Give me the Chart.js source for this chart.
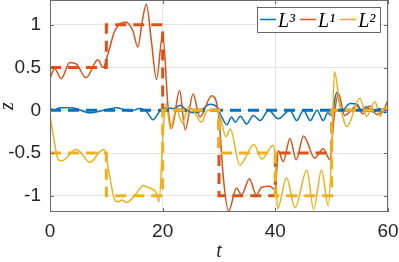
<!DOCTYPE html>
<html>
<head>
<meta charset="utf-8">
<script src="https://cdn.jsdelivr.net/npm/chart.js@4"></script>
<style>
html, body { margin: 0; padding: 0; background: #fff; }
</style>
</head>
<body>
<canvas id="chart" width="399" height="262"></canvas>
<script>

const blue = "#0072BD"
const orange = "#D95319"
const yellow = "#EDB120"

// reference steps, each value holds until the next time
const refTimes = [0, 10, 20, 30, 40, 50, 60];
const refL3 = [0, 0, 0, 0, 0, 0, 0];
const refL1 = [0.5, 1, 0, -1, -0.5, 0, 0];
const refL2 = [-0.5, -1, 0, -0.5, -1, 0, 0];

// measured trajectories
const tL3 = [0, 0.8, 1.8, 3.9, 7.1, 9.5, 11.8, 14.2, 16.0, 17.2, 18.3, 19.6, 20.7, 22.0, 23.1, 24.3, 25.4, 26.5, 28.4, 29.6,
             30.5, 31.4, 32.2, 32.9, 33.8, 34.9, 36.1, 37.3, 38.8, 40.5, 42.6, 43.8, 45.0, 46.2, 47.4, 48.5, 49.3, 50.0,
             50.9, 51.8, 53.3, 54.5, 55.3, 56.2, 57.3, 58.5, 59.5, 60];
const zL3 = [0.02, 0.0, 0.03, 0.03, -0.03, 0.0, 0.03, -0.01, 0.02, -0.02, -0.11, 0.0, 0.03, 0.02, 0.06, 0.0, -0.03, -0.02, 0.07, 0.04,
             -0.08, -0.17, -0.08, -0.14, -0.07, -0.16, -0.06, -0.12, 0.0, -0.1, 0.0, -0.12, 0.0, -0.12, 0.0, -0.12, -0.03, -0.06,
             0.21, 0.0, 0.08, 0.07, 0.0, 0.04, -0.02, 0.02, -0.03, 0.0];

const tL1 = [0, 0.8, 2.0, 3.5, 4.7, 6.4, 8.5, 9.4, 10.3, 11.5, 13.5, 14.7, 15.6, 16.4, 17.1, 18.0, 18.9, 20.0, 21.0, 21.6,
             23.0, 24.0, 25.4, 26.6, 28.7, 29.9, 30.8, 31.7, 33.1, 34.0, 35.4, 36.6, 37.6, 39.0, 40.0, 40.5, 41.4, 42.6,
             43.7, 45.0, 47.0, 48.5, 49.7, 50.4, 51.2, 52.3, 53.5, 54.4, 55.5, 56.8, 58.0, 59.2, 60];
const zL1 = [0.37, 0.49, 0.37, 0.56, 0.54, 0.38, 0.59, 0.50, 0.66, 0.93, 1.03, 0.93, 0.74, 1.05, 1.24, 0.81, 0.36, 0.89, 0.0, -0.21,
             0.23, -0.23, 0.19, -0.08, 0.17, -0.04, -0.81, -1.18, -0.91, -0.99, -0.80, -0.99, -0.90, -0.89, -0.93, -0.47, -0.60, -0.33,
             -0.58, -0.30, -0.56, -0.45, -0.58, -0.1, 0.2, -0.06, 0.0, 0.06, -0.04, 0.05, -0.05, 0.0, 0.12];

const tL2 = [0, 0.6, 1.5, 2.1, 4.6, 5.4, 7.1, 8.9, 9.6, 10.4, 11.5, 12.1, 12.8, 13.6, 15.1, 16.6, 17.2, 17.8, 18.9, 19.35,
             20.1, 20.6, 21.4, 22.4, 23.5, 24.6, 25.6, 26.9, 28.0, 29.5, 30.4, 31.2, 32.0, 33.7, 36.2, 37.6, 39.6, 40.0,
             40.4, 42.0, 43.5, 45.6, 46.8, 48.2, 49.4, 50.0, 50.5, 51.4, 52.7, 55.0, 56.2, 57.7, 58.6, 59.4, 60];
const zL2 = [-0.06, -0.3, -0.58, -0.59, -0.46, -0.49, -0.61, -0.48, -0.46, -0.70, -1.05, -1.07, -1.05, -1.08, -0.99, -0.88, -0.90, -0.91, -0.97, -1.07,
             -0.23, 0.08, -0.22, 0.02, -0.15, 0.04, -0.02, -0.14, 0.0, 0.0, -0.12, -0.31, -0.22, -0.64, -0.40, -0.57, -0.41, -0.55,
             -1.15, -0.79, -1.14, -0.70, -1.16, -0.70, -1.12, -0.5, 0.45, 0.1, -0.19, 0.14, -0.07, 0.10, -0.07, 0.03, 0.0];

function pts(t, z) {
    return t.map((x, i) => ({x: x, y: z[i]}));
}

function solid(label, color, t, z) {
    return {label: label, data: pts(t, z), borderColor: color, borderWidth: 1.5,
            cubicInterpolationMode: 'monotone', pointRadius: 0, fill: false};
}

function dashed(color, z) {
    return {label: '', data: pts(refTimes, z), borderColor: color, borderWidth: 3,
            borderDash: [11, 7], stepped: 'before', pointRadius: 0, fill: false};
}

const axisFont = {family: 'Liberation Sans', size: 19};
const mathFont = {family: 'Liberation Serif', style: 'italic', size: 20, lineHeight: 0.8};
const legendOrder = [5, 4, 3]; // L3, L1, L2

const frame = {
    id: 'frame',
    afterDraw(chart) {
        const ctx = chart.ctx;
        const a = chart.chartArea;
        const sx = chart.scales.x, sy = chart.scales.y;
        ctx.save();
        ctx.strokeStyle = '#6b6b6b';
        ctx.lineWidth = 1;
        ctx.strokeRect(a.left + 0.5, a.top + 0.5, a.right - a.left - 1, a.bottom - a.top - 1);
        ctx.beginPath();
        sx.ticks.forEach(tk => {
            const p = Math.round(sx.getPixelForValue(tk.value)) + 0.5;
            ctx.moveTo(p, a.bottom); ctx.lineTo(p, a.bottom - 4);
            ctx.moveTo(p, a.top); ctx.lineTo(p, a.top + 4);
        });
        sy.ticks.forEach(tk => {
            const p = Math.round(sy.getPixelForValue(tk.value)) + 0.5;
            ctx.moveTo(a.left, p); ctx.lineTo(a.left + 4, p);
            ctx.moveTo(a.right, p); ctx.lineTo(a.right - 4, p);
        });
        ctx.stroke();

        // legend box, top right
        const bx = 257, by = 7, bw = 123, bh = 25;
        ctx.fillStyle = '#fff';
        ctx.fillRect(bx, by, bw, bh);
        ctx.strokeStyle = '#262626';
        ctx.lineWidth = 0.7;
        ctx.strokeRect(bx + 0.5, by + 0.5, bw, bh);
        ctx.font = 'italic 20px "Liberation Serif"';
        ctx.textBaseline = 'alphabetic';
        let x = bx + 3;
        legendOrder.forEach(i => {
            const ds = chart.data.datasets[i];
            ctx.strokeStyle = ds.borderColor;
            ctx.lineWidth = 1.5;
            ctx.beginPath();
            ctx.moveTo(x, by + 12.5); ctx.lineTo(x + 16, by + 12.5);
            ctx.stroke();
            ctx.fillStyle = '#000';
            ctx.fillText(ds.label, x + 18, by + 20);
            x += 18 + ctx.measureText(ds.label).width + 5;
        });
        ctx.restore();
    }
};

new Chart(document.getElementById('chart'), {
    type: 'line',
    data: {
        datasets: [
            dashed(yellow, refL2),
            dashed(orange, refL1),
            dashed(blue, refL3),
            solid('L\u00B2', yellow, tL2, zL2),
            solid('L\u00B9', orange, tL1, zL1),
            solid('L\u00B3', blue, tL3, zL3)
        ]
    },
    options: {
        responsive: false,
        animation: false,
        devicePixelRatio: 1,
        layout: {padding: {top: 0, right: 11, bottom: 0, left: 0}},
        plugins: {legend: {display: false}, tooltip: {enabled: false}},
        scales: {
            x: {
                type: 'linear', min: 0, max: 60,
                ticks: {stepSize: 20, padding: 8, color: '#262626', font: axisFont, maxRotation: 0},
                grid: {color: '#e4e4e4', drawTicks: false},
                border: {display: false},
                title: {display: true, text: 't', color: '#262626', font: mathFont, padding: {top: 0, bottom: 2}},
                afterFit(s) { s.height = 50; s.paddingLeft = 0; s.paddingRight = 0; }
            },
            y: {
                min: -1.19, max: 1.29,
                ticks: {stepSize: 0.5, includeBounds: false, padding: 9, color: '#262626', font: axisFont,
                        callback: v => String(v)},
                grid: {color: '#e4e4e4', drawTicks: false},
                border: {display: false},
                title: {display: true, text: 'z', color: '#262626', font: mathFont, padding: 0},
                afterFit(s) { s.width = 50; s.paddingTop = 0; s.paddingBottom = 0; }
            }
        }
    },
    plugins: [frame]
});
</script>
</body>
</html>
